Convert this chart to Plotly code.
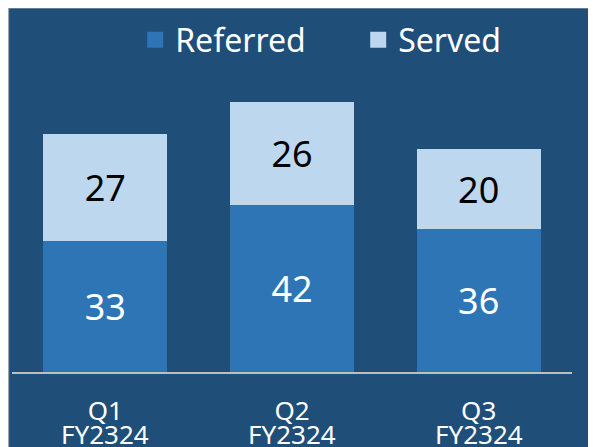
import plotly.graph_objects as go

quarters = ["Q1", "Q2", "Q3"]
fiscal_year = ["FY2324", "FY2324", "FY2324"]
referred = [33, 42, 36]
served = [27, 26, 20]

BG = "#1F4E79"
REF_COLOR = "#2E75B6"
SRV_COLOR = "#BDD7EE"
FONT = "Noto Sans"

fig = go.Figure()

fig.add_trace(go.Bar(
    x=quarters, y=referred, name="Referred", showlegend=False,
    marker=dict(color=REF_COLOR, line=dict(width=0)),
    text=referred, textposition="inside", insidetextanchor="middle",
    textfont=dict(color="white", size=36, family=FONT),
))
fig.add_trace(go.Bar(
    x=quarters, y=served, name="Served", showlegend=False,
    marker=dict(color=SRV_COLOR, line=dict(width=0)),
    text=served, textposition="inside", insidetextanchor="middle",
    textfont=dict(color="black", size=36, family=FONT),
))

# legend-only entries so the swatches can be as big as in the original
for name, color in [("Referred", REF_COLOR), ("Served", SRV_COLOR)]:
    fig.add_trace(go.Scatter(
        x=[None], y=[None], mode="markers", name=name,
        marker=dict(symbol="square", size=20, color=color),
    ))

# second line of the category labels, placed tighter than <br> would
for q, fy in zip(quarters, fiscal_year):
    fig.add_annotation(
        x=q, y=-0.195, xref="x", yref="paper", text=fy, showarrow=False,
        font=dict(color="white", size=26, family=FONT), yanchor="middle",
    )

# thin grey edge along the top/left of the panel
fig.add_shape(
    type="rect", xref="paper", yref="paper", layer="below",
    x0=-0.006, x1=1.2, y0=-0.5, y1=1.1447,
    fillcolor="rgba(0,0,0,0)", line=dict(color="#B0B0B0", width=1),
)

fig.update_layout(
    width=604, height=447,
    barmode="stack", bargap=0.336,
    paper_bgcolor=BG, plot_bgcolor=BG,
    margin=dict(l=4, r=40, t=46, b=83, autoexpand=False),
    font=dict(family=FONT, color="white"),
    showlegend=True,
    legend=dict(
        orientation="h", traceorder="normal",
        x=0.22, xanchor="left", y=1.044, yanchor="middle",
        font=dict(size=32, color="white", family=FONT),
        bgcolor="rgba(0,0,0,0)", itemsizing="trace",
        itemwidth=30, entrywidth=178,
    ),
    uniformtext=dict(minsize=36, mode="show"),
)

fig.update_xaxes(
    showline=True, linecolor="#BFBFBF", linewidth=1.5,
    tickfont=dict(size=26, color="white", family=FONT),
    ticks="", showgrid=False, ticklabelstandoff=15,
)
fig.update_yaxes(range=[0, 80], visible=False, showgrid=False)

fig.write_html("out.html")
